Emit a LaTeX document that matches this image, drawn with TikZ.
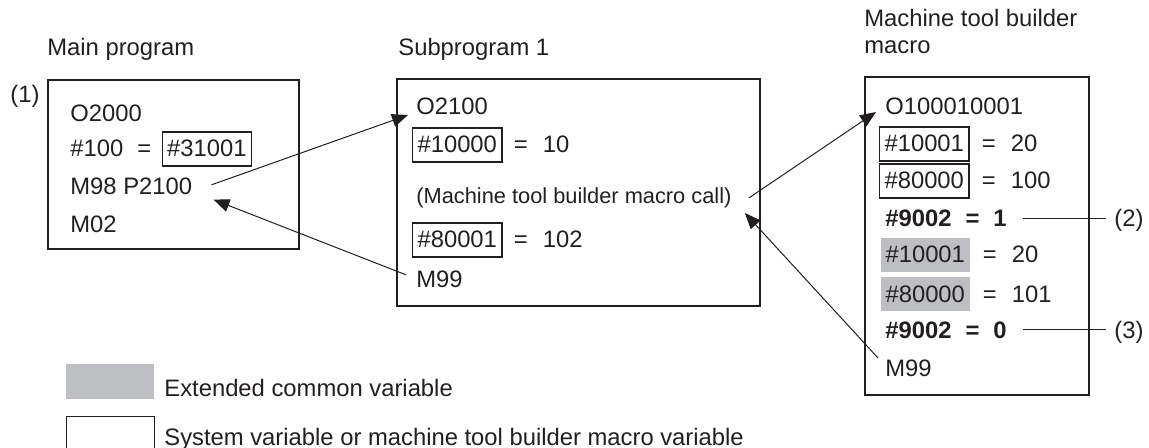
\documentclass[tikz,border=0pt]{standalone}
\usepackage{fontspec}
\setmainfont{Liberation Sans}
\usepackage{xcolor}
\usepackage{tikz}
\usetikzlibrary{arrows.meta, positioning}
\definecolor{ink}{RGB}{35,31,32}
\definecolor{extgray}{RGB}{190,191,194}
\tikzset{
  prog/.style = {draw, line width=0.9pt, anchor=north west, inner sep=0pt},
  txt/.style  = {anchor=base west, inner sep=0pt,
                 font=\fontsize{11.9pt}{14pt}\selectfont},
  var/.style  = {txt, draw, line width=0.55pt, inner xsep=2.5pt, inner ysep=0pt,
                 text height=12.5pt, text depth=4.5pt},
  ext/.style  = {var, draw=none, fill=extgray},
  key/.style  = {anchor=north west, inner sep=0pt, minimum width=44pt, minimum height=17.5pt},
  fl/.style   = {-{Triangle[length=8pt, width=6.5pt]}, line width=0.5pt},
  lead/.style = {line width=0.65pt},
}
\begin{document}
\begin{tikzpicture}[x=0.5pt, y=-0.5pt, color=ink]
  \useasboundingbox (0,0) rectangle (1149,448);
  % titles
  \node[txt] (tmain) at (47,56) {Main program};
  \node[txt] (tsub)  at (398,56) {Subprogram 1};
  \node[txt] (tmac1) at (864,27) {Machine tool builder};
  \node[txt] (tmac2) at (864,54) {macro};
  \node[txt] (lab1)  at (10,103) {(1)};
  % main program
  \node[prog, minimum width=125.5pt, minimum height=84.5pt] (main) at (47,79) {};
  \node[txt] (o2000) at (70,122) {O2000};
  \node[txt] (l100)  at (70,157) {\#100\hspace{7pt}=};
  \node[var, base right=5pt of l100] (v31001) {\#31001};
  \node[txt] (m98)   at (70,195) {M98 P2100};
  \node[txt] (m02)   at (70,233) {M02};
  % subprogram 1
  \node[prog, minimum width=181.5pt, minimum height=113.5pt] (sub) at (396,78) {};
  \node[txt] (o2100) at (416,115) {O2100};
  \node[var] (v10000) at (412,153) {\#10000};
  \node[txt, base right=5.5pt of v10000] (e10000) {=\hspace{7.5pt}10};
  \node[txt, font=\fontsize{10.9pt}{13pt}\selectfont] (call) at (416,204) {(Machine tool builder macro call)};
  \node[var] (v80001) at (412,248) {\#80001};
  \node[txt, base right=5.5pt of v80001] (e80001) {=\hspace{7.5pt}102};
  \node[txt] (m99b)  at (416,287) {M99};
  % machine tool builder macro
  \node[prog, minimum width=112pt, minimum height=159pt] (mac) at (864,76) {};
  \node[txt] (o1000) at (885,115) {O100010001};
  \node[var] (v10001a) at (879,152) {\#10001};
  \node[txt, base right=6pt of v10001a] (e10001a) {=\hspace{7.5pt}20};
  \node[var] (v80000a) at (879,189) {\#80000};
  \node[txt, base right=6pt of v80000a] (e80000a) {=\hspace{7.5pt}100};
  \node[txt, font=\fontsize{11.9pt}{14pt}\bfseries] (b1) at (885,227) {\#9002\hspace{7pt}=\hspace{7pt}1};
  \node[ext] (v10001b) at (880,263) {\#10001};
  \node[txt, base right=6pt of v10001b] (e10001b) {=\hspace{7.5pt}20};
  \node[ext] (v80000b) at (880,302) {\#80000};
  \node[txt, base right=6pt of v80000b] (e80000b) {=\hspace{7.5pt}101};
  \node[txt, font=\fontsize{11.9pt}{14pt}\bfseries] (b0) at (885,338) {\#9002\hspace{7pt}=\hspace{7pt}0};
  \node[txt] (m99c)  at (885,376) {M99};
  \node[txt] (lab2)  at (1114,227) {(2)};
  \node[txt] (lab3)  at (1114,338) {(3)};
  \draw[lead] ([xshift=8pt]b1.east) -- ([xshift=-4pt]b1.east -| lab2.west);
  \draw[lead] ([xshift=8pt]b0.east) -- ([xshift=-4pt]b0.east -| lab3.west);
  % calls and returns
  \draw[fl] ([shift={(9.5pt,1pt)}]m98.east) -- ([xshift=-4pt]o2100.base west);
  \draw[fl] ([shift={(-5pt,2pt)}]m99b.west) -- ([shift={(10.5pt,-2pt)}]m98.south east);
  \draw[fl] ([shift={(8.5pt,3pt)}]call.base east) -- ([shift={(-4.5pt,1.5pt)}]o1000.base west);
  \draw[fl] ([shift={(-3.5pt,9pt)}]m99c.base west) -- ([shift={(6.5pt,-4.5pt)}]call.base east);
  % legend
  \node[key, fill=extgray] (kext) at (66,364) {};
  \node[txt] (text) at (164,396) {Extended common variable};
  \node[key, draw, line width=0.5pt] (ksys) at (66,416) {};
  \node[txt] (tsys) at (164,445) {System variable or machine tool builder macro variable};
\end{tikzpicture}
\end{document}
